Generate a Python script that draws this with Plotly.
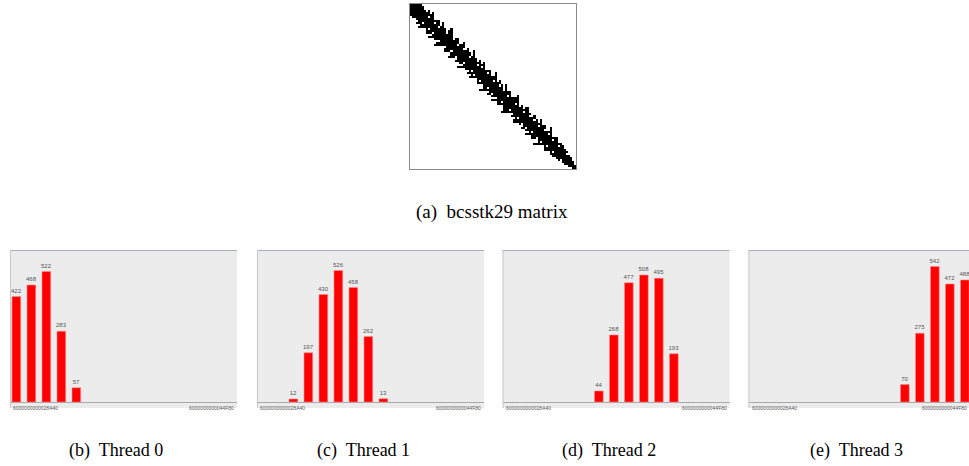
import plotly.graph_objects as go

W, H = 969, 466

# ---------------- data ----------------
# Histogram bins (slot index along address range) and counts per thread
thread0_slots = [0, 1, 2, 3, 4]
thread0_counts = [422, 468, 522, 283, 57]
thread1_slots = [2, 3, 4, 5, 6, 7, 8]
thread1_counts = [12, 197, 430, 526, 458, 262, 13]
thread2_slots = [6, 7, 8, 9, 10, 11]
thread2_counts = [44, 268, 477, 508, 495, 193]
thread3_slots = [10, 11, 12, 13, 14]
thread3_counts = [70, 275, 542, 472, 488]

addr_first = "6000000000028A40"
addr_last = "6000000000044F80"

spy_caption = "(a)  bcsstk29 matrix"
panel_captions = ["(b)  Thread 0", "(c)  Thread 1", "(d)  Thread 2", "(e)  Thread 3"]

# Sparsity pattern of bcsstk29 on a coarse grid: lower-band extent per block row
spy_lower_extent = [0, 1, 2, 3, 4, 5, 5, 4, 4, 6,
                    5, 7, 4, 5, 6, 4, 7, 5, 4, 6,
                    8, 4, 5, 6, 4, 5, 7, 4, 6, 5,
                    4, 8, 5, 4, 6, 5, 7, 4, 5, 6,
                    4, 5, 8, 4, 6, 5, 4, 7, 5, 6,
                    4, 5, 6, 8, 4, 5, 4, 6, 7, 5,
                    4, 6, 5, 4, 7, 5, 6, 4, 5, 8,
                    4, 5, 6, 4, 5, 5, 4, 4, 3, 3,
                    2, 1]
spy_holes = [(9, 6), (14, 11), (18, 14), (23, 20), (26, 22), (29, 26), (33, 30),
             (41, 38), (44, 40), (48, 45), (52, 49), (56, 53), (59, 55), (63, 60),
             (66, 62), (70, 67), (73, 70), (77, 74), (21, 17), (35, 31), (46, 42),
             (61, 57), (12, 9), (38, 34), (54, 50), (68, 64)]

# ---------------- build spy matrix ----------------
N = len(spy_lower_extent)
z = [[0] * N for _ in range(N)]
for i, ext in enumerate(spy_lower_extent):
    for j in range(max(0, i - ext), i + 1):
        z[i][j] = 1
        z[j][i] = 1
for (r, c) in spy_holes:
    z[r][c] = 0
    z[c][r] = 0


def px_x(p):
    return p / W


def px_y(p):
    return 1 - p / H


fig = go.Figure()

fig.add_trace(go.Heatmap(
    z=z, x=list(range(N)), y=list(range(N)),
    colorscale=[[0, "white"], [1, "black"]], zmin=0, zmax=1,
    showscale=False, hoverinfo="skip", xaxis="x", yaxis="y"))

layout = dict(
    width=W, height=H, autosize=False,
    margin=dict(l=0, r=0, t=0, b=0, pad=0),
    paper_bgcolor="white", plot_bgcolor="rgba(0,0,0,0)",
    showlegend=False,
    xaxis=dict(domain=[px_x(410), px_x(576)], range=[-0.5, N - 0.5],
               showline=True, mirror=True, linecolor="#8a8a8a", linewidth=1,
               showticklabels=False, ticks="", showgrid=False, zeroline=False, anchor="y"),
    yaxis=dict(domain=[px_y(169), px_y(4)], range=[N - 0.5, -0.5],
               showline=True, mirror=True, linecolor="#8a8a8a", linewidth=1,
               showticklabels=False, ticks="", showgrid=False, zeroline=False, anchor="x"),
)

unit = 15.0           # pixels per slot
left_off = 6.35       # px from plot left to first slot centre
panel_left = [10, 257, 502.5, 748.5]
panel_width = 227
top_px, bot_px = 250, 408
y_range = [-24, 608]

series = [(thread0_slots, thread0_counts), (thread1_slots, thread1_counts),
          (thread2_slots, thread2_counts), (thread3_slots, thread3_counts)]

shapes = []
annotations = []
for k, (slots, counts) in enumerate(series):
    ax = k + 2
    xl = panel_left[k]
    xr = min(xl + panel_width, W)
    vis_w = xr - xl
    r0 = -left_off / unit
    r1 = r0 + vis_w / unit
    fig.add_trace(go.Bar(
        x=slots, y=counts, text=[str(c) for c in counts],
        textposition="outside", constraintext="none", cliponaxis=True,
        textfont=dict(size=6, color="#555555", family="Liberation Sans"),
        marker=dict(color="#ff0000", line=dict(color="#ff8c8c", width=0.6)),
        width=0.58, xaxis=f"x{ax}", yaxis=f"y{ax}", hoverinfo="skip"))
    layout[f"xaxis{ax}"] = dict(domain=[px_x(xl), px_x(xr)], range=[r0, r1],
                                showticklabels=False, ticks="", showgrid=False,
                                zeroline=False, showline=False, anchor=f"y{ax}")
    layout[f"yaxis{ax}"] = dict(domain=[px_y(bot_px), px_y(top_px)], range=y_range,
                                showticklabels=False, ticks="", showgrid=False,
                                zeroline=True, zerolinecolor="#a8a8a8", zerolinewidth=1,
                                showline=False, anchor=f"x{ax}")
    # panel background and borders
    shapes.append(dict(type="rect", xref="paper", yref="paper",
                       x0=px_x(xl), x1=px_x(xr), y0=px_y(bot_px), y1=px_y(top_px),
                       fillcolor="#ececec", line=dict(width=0), layer="below"))
    shapes.append(dict(type="line", xref="paper", yref="paper",
                       x0=px_x(xl), x1=px_x(xr), y0=px_y(top_px + 0.5), y1=px_y(top_px + 0.5),
                       line=dict(color="#a9b0bd", width=1), layer="above"))
    shapes.append(dict(type="line", xref="paper", yref="paper",
                       x0=px_x(xl + 0.5), x1=px_x(xl + 0.5), y0=px_y(bot_px), y1=px_y(top_px),
                       line=dict(color="#c4c7cc", width=1), layer="above"))
    # address labels at both ends of the axis
    annotations.append(dict(text=addr_first, xref=f"x{ax} domain", yref=f"y{ax}",
                            x=0.005, y=-3, xanchor="left", yanchor="top", showarrow=False,
                            font=dict(size=5, color="#555555", family="Liberation Sans")))
    annotations.append(dict(text=addr_last, xref=f"x{ax} domain", yref=f"y{ax}",
                            x=min((panel_width - 1) / vis_w, 1.0), y=-3,
                            xanchor="right", yanchor="top", showarrow=False,
                            font=dict(size=5, color="#555555", family="Liberation Sans")))

annotations.append(dict(text=spy_caption, xref="paper", yref="paper",
                        x=px_x(492), y=px_y(212), xanchor="center", yanchor="middle",
                        showarrow=False,
                        font=dict(size=19, color="black", family="Liberation Serif")))
caption_centres = [116, 363, 609, 856]
for cx, cap in zip(caption_centres, panel_captions):
    annotations.append(dict(text=cap, xref="paper", yref="paper",
                            x=px_x(cx), y=px_y(450), xanchor="center", yanchor="middle",
                            showarrow=False,
                            font=dict(size=18, color="black", family="Liberation Serif")))

layout["shapes"] = shapes
layout["annotations"] = annotations
fig.update_layout(**layout)

fig.write_html("out.html")
